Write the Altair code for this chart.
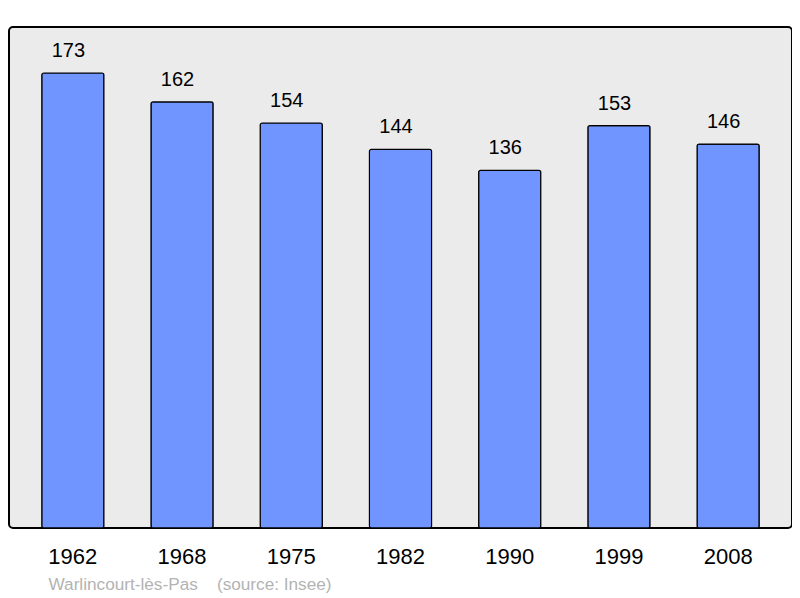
import altair as alt
import pandas as pd

years = ["1962", "1968", "1975", "1982", "1990", "1999", "2008"]
population = [173, 162, 154, 144, 136, 153, 146]
footer_text = ["Warlincourt-lès-Pas\u00a0\u00a0\u00a0\u00a0(source: Insee)"]

df = pd.DataFrame({"year": years, "pop": population})
foot = pd.DataFrame({"t": footer_text})

W, H = 783, 501

x = alt.X("year:N", sort=years,
          scale=alt.Scale(paddingInner=0.431, paddingOuter=0.30),
          axis=alt.Axis(title=None, labelAngle=0, labelFontSize=22, labelColor="black",
                        labelFont="Liberation Sans", domain=False, ticks=False, labelPadding=18))
y = alt.Y("pop:Q", scale=alt.Scale(domain=[0, 190.5], nice=False, zero=True), axis=None)

bars = alt.Chart(df).mark_bar(color="#7095ff", stroke="black", strokeWidth=1.2,
                              cornerRadius=2).encode(x=x, y=y)
labels = alt.Chart(df).mark_text(dy=-12, dx=-4.5, baseline="bottom", fontSize=20,
                                 font="Liberation Sans", color="black").encode(
    x=x, y=y, text="pop:Q")
footer = alt.Chart(foot).mark_text(align="left", baseline="alphabetic", fontSize=17.2,
                                   font="Liberation Sans", color="#b3b3b3").encode(
    x=alt.value(39.5), y=alt.value(563), text="t:N")

chart = alt.layer(bars, labels, footer).properties(
    width=W, height=H, autosize="none",
    padding={"left": 1, "top": 19, "right": 0, "bottom": 70},
).configure_view(fill="#ebebeb", stroke="black", strokeWidth=2, cornerRadius=4)

chart.save("out.html", embed_options={"renderer": "svg", "actions": False})
